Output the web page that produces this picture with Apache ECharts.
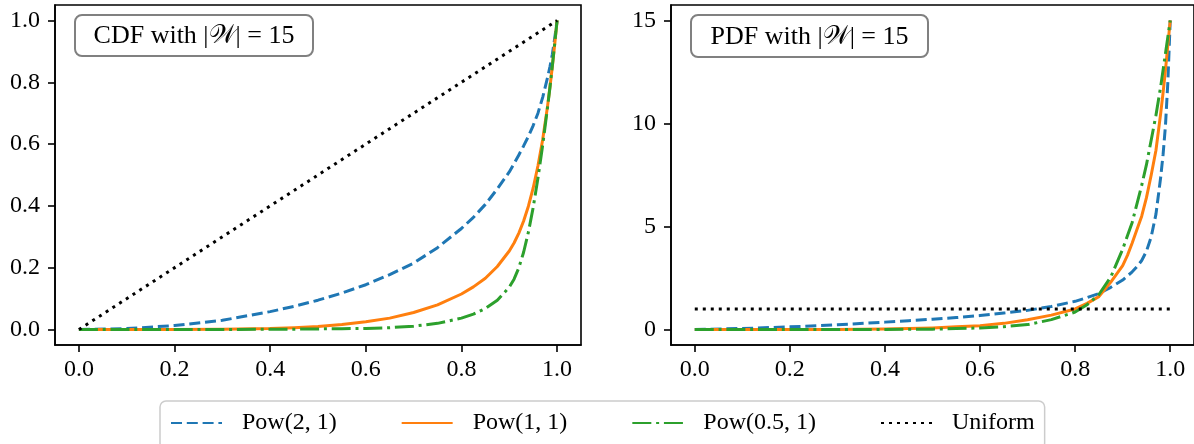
<!DOCTYPE html>
<html>
<head>
<meta charset="utf-8">
<script src="https://cdn.jsdelivr.net/npm/echarts@6/dist/echarts.min.js"></script>
<style>
html,body{margin:0;padding:0;background:#fff;}
#main{width:1194px;height:444px;}
</style>
</head>
<body>
<div id="main"></div>
<script>
// ---- data ----
const seriesNames = ['Pow(2, 1)', 'Pow(1, 1)', 'Pow(0.5, 1)', 'Uniform'];
const xs = [0, 0.1, 0.2, 0.3, 0.4, 0.45, 0.5, 0.55, 0.6, 0.65, 0.7, 0.75, 0.8, 0.825, 0.85, 0.875, 0.9, 0.91, 0.92, 0.93, 0.94, 0.95, 0.96, 0.97, 0.98, 0.985, 0.99, 0.995, 1.0];
const cdfPow2 = [0, 0.003, 0.013, 0.03, 0.058, 0.075, 0.095, 0.118, 0.145, 0.178, 0.215, 0.265, 0.327, 0.363, 0.405, 0.455, 0.51, 0.537, 0.565, 0.594, 0.625, 0.66, 0.70, 0.752, 0.815, 0.85, 0.89, 0.942, 1.0];
const cdfPow1 = [0, 0, 0.0003, 0.001, 0.003, 0.006, 0.01, 0.016, 0.025, 0.037, 0.055, 0.08, 0.115, 0.138, 0.166, 0.204, 0.254, 0.28, 0.312, 0.351, 0.399, 0.458, 0.53, 0.616, 0.722, 0.783, 0.85, 0.923, 1.0];
const cdfPow05 = [0, 0, 0, 0.0002, 0.0008, 0.0013, 0.002, 0.0027, 0.0035, 0.006, 0.011, 0.02, 0.037, 0.05, 0.068, 0.095, 0.137, 0.163, 0.20, 0.25, 0.315, 0.395, 0.49, 0.598, 0.718, 0.783, 0.852, 0.925, 1.0];
const pdfPow2 = [0, 0.05, 0.13, 0.23, 0.36, 0.43, 0.5, 0.58, 0.68, 0.8, 0.93, 1.12, 1.37, 1.55, 1.75, 2.05, 2.4, 2.6, 2.8, 3.05, 3.35, 3.8, 4.5, 5.6, 7.4, 8.5, 9.9, 12, 15];
const pdfPow1 = [0, 0, 0.002, 0.008, 0.03, 0.05, 0.08, 0.13, 0.19, 0.3, 0.48, 0.7, 1.0, 1.27, 1.6, 2.3, 3.1, 3.6, 4.2, 4.85, 5.5, 6.4, 7.5, 8.7, 10.5, 11.5, 12.6, 13.8, 15];
const pdfPow05 = [0, 0, 0, 0.001, 0.005, 0.01, 0.02, 0.045, 0.08, 0.14, 0.24, 0.48, 0.85, 1.2, 1.7, 2.55, 3.9, 4.55, 5.2, 6.1, 7.0, 8.0, 9.2, 10.4, 11.8, 12.6, 13.4, 14.2, 15];
const uniformX = [0, 1];
const cdfUniform = [0, 1];
const pdfUniform = [1, 1];
const xTicks = [0, 0.2, 0.4, 0.6, 0.8, 1.0];
const cdfTicks = [0, 0.2, 0.4, 0.6, 0.8, 1.0];
const pdfTicks = [0, 5, 10, 15];
const cdfTitle = 'CDF with |𝒲| = 15';
const pdfTitle = 'PDF with |𝒲| = 15';

// ---- styling ----
const FONT = "'Liberation Serif', 'DejaVu Serif', serif";
const colors = ['#1f77b4', '#ff7f0e', '#2ca02c', '#000000'];
const lineTypes = [[11, 4.8], 'solid', [19, 4.8, 3, 4.8], [3, 5]];
const zip = (a, b) => a.map((v, i) => [v, b[i]]);

const cdfSets = [zip(xs, cdfPow2), zip(xs, cdfPow1), zip(xs, cdfPow05), zip(uniformX, cdfUniform)];
const pdfSets = [zip(xs, pdfPow2), zip(xs, pdfPow1), zip(xs, pdfPow05), zip(uniformX, pdfUniform)];

function mkSeries(sets, idx) {
  return sets.map((d, i) => ({
    type: 'line', name: seriesNames[i], data: d,
    xAxisIndex: idx, yAxisIndex: idx,
    showSymbol: false, symbol: 'none', smooth: false,
    lineStyle: { color: colors[i], width: 3, type: lineTypes[i], join: 'round' },
    itemStyle: { color: colors[i] },
    z: 2 + i, animation: false, silent: true
  }));
}

function xAxisCfg(idx) {
  return {
    type: 'value', gridIndex: idx, min: -0.05, max: 1.05,
    axisLine: { show: true, onZero: false, lineStyle: { color: '#000', width: 1.6 } },
    axisTick: { show: true, customValues: xTicks, length: 7, inside: false, lineStyle: { color: '#000', width: 1.6 } },
    axisLabel: { customValues: xTicks, margin: 13, formatter: v => v.toFixed(1), color: '#000', fontFamily: FONT, fontSize: 24 },
    splitLine: { show: false }
  };
}
function yAxisCfg(idx, min, max, ticks, fmt) {
  return {
    type: 'value', gridIndex: idx, min: min, max: max,
    axisLine: { show: true, onZero: false, lineStyle: { color: '#000', width: 1.6 } },
    axisTick: { show: true, customValues: ticks, length: 7, lineStyle: { color: '#000', width: 1.6 } },
    axisLabel: { customValues: ticks, margin: 15, formatter: fmt, color: '#000', fontFamily: FONT, fontSize: 24 },
    splitLine: { show: false }
  };
}

function boxGraphic(x, y, w, h, text) {
  return {
    type: 'group', left: x, top: y, z: 100,
    children: [
      { type: 'rect', shape: { x: 0, y: 0, width: w, height: h, r: 7 },
        style: { fill: '#fff', stroke: '#808080', lineWidth: 2 } },
      { type: 'text', x: w / 2, y: h / 2 + 1,
        style: { text: text, fill: '#000', font: "26px 'Liberation Serif', 'DejaVu Serif', 'DejaVu Sans', serif",
                 align: 'center', verticalAlign: 'middle' } }
    ]
  };
}

const chart = echarts.init(document.getElementById('main'), null, { renderer: 'canvas' });
chart.setOption({
  animation: false,
  backgroundColor: '#fff',
  grid: [
    { left: 55, top: 5, width: 526, height: 340, show: true, borderColor: '#000', borderWidth: 1.6, backgroundColor: 'transparent' },
    { left: 671, top: 5, width: 526, height: 340, show: true, borderColor: '#000', borderWidth: 1.6, backgroundColor: 'transparent' }
  ],
  xAxis: [xAxisCfg(0), xAxisCfg(1)],
  yAxis: [
    yAxisCfg(0, -0.05, 1.05, cdfTicks, v => v.toFixed(1)),
    yAxisCfg(1, -0.75, 15.75, pdfTicks, v => String(v))
  ],
  legend: {
    left: 160, top: 401,
    orient: 'horizontal',
    itemWidth: 51, itemHeight: 14, itemGap: 64,
    padding: [10, 10, 14, 10],
    borderColor: '#cccccc', borderWidth: 1.5, borderRadius: 6, backgroundColor: '#fff',
    itemStyle: { opacity: 0, color: 'rgba(0,0,0,0)', borderWidth: 0 },
    textStyle: { fontFamily: FONT, fontSize: 24, color: '#000', padding: [0, 0, 0, 15] },
    data: seriesNames,
    selectedMode: false
  },
  graphic: [boxGraphic(74, 14, 238, 41, cdfTitle), boxGraphic(690, 14, 237, 42, pdfTitle)],
  series: mkSeries(cdfSets, 0).concat(mkSeries(pdfSets, 1))
});
</script>
</body>
</html>
